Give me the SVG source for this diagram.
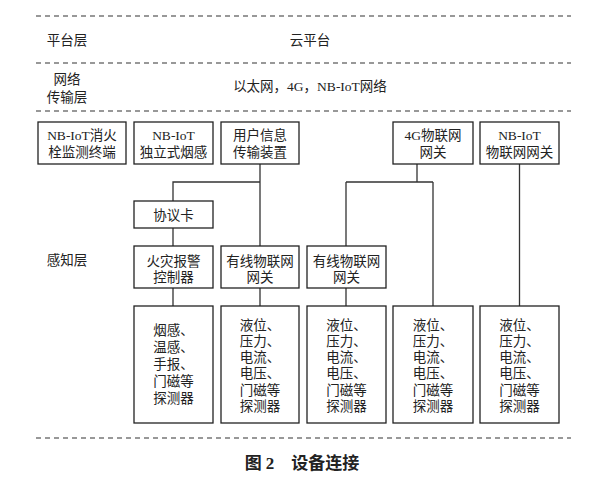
<svg xmlns="http://www.w3.org/2000/svg" width="596" height="480" viewBox="0 0 596 480">
<style>
text{font-family:"Liberation Serif","Noto Sans CJK SC",serif;font-size:13.5px;fill:#222;text-anchor:middle}
.box{fill:#fff;stroke:#222;stroke-width:1.3}
.dash{stroke:#333;stroke-width:1.2;stroke-dasharray:5 4;fill:none}
.con{stroke:#333;stroke-width:1.3;fill:none}
.cap{font-size:17px;font-weight:bold}
</style>
<rect width="596" height="480" fill="#fff"/>
<g id="layers">
<line class="dash" x1="36" y1="16" x2="571" y2="16"/>
<line class="dash" x1="36" y1="63" x2="571" y2="63"/>
<line class="dash" x1="36" y1="111" x2="571" y2="111"/>
<line class="dash" x1="36" y1="438" x2="571" y2="438"/>
<text x="67" y="45">平台层</text>
<text x="310" y="45">云平台</text>
<text x="67" y="84">网络</text>
<text x="67" y="102">传输层</text>
<text x="310" y="91">以太网，4G，NB-IoT网络</text>
<text x="67" y="265">感知层</text>
</g>
<g id="connectors">
<path class="con" d="M260 164V246M260 182H173V201M173 228V246M173 288V306M260 288V306"/>
<path class="con" d="M417 164V182M346 182H433M346 182V246M346 288V306M433 182V306"/>
<path class="con" d="M519.5 164V306"/>
</g>
<g id="n1"><rect class="box" x="38" y="122" width="88" height="42"/><text x="82" y="140">NB-IoT消火</text><text x="82" y="157">栓监测终端</text></g>
<g id="n2"><rect class="box" x="134" y="122" width="79" height="42"/><text x="173.5" y="140">NB-IoT</text><text x="173.5" y="157">独立式烟感</text></g>
<g id="n3"><rect class="box" x="221" y="122" width="78" height="42"/><text x="260" y="140">用户信息</text><text x="260" y="157">传输装置</text></g>
<g id="n4"><rect class="box" x="393" y="122" width="80" height="42"/><text x="433" y="140">4G物联网</text><text x="433" y="157">网关</text></g>
<g id="n5"><rect class="box" x="480" y="122" width="79" height="42"/><text x="519.5" y="140">NB-IoT</text><text x="519.5" y="157">物联网网关</text></g>
<g id="n6"><rect class="box" x="134" y="201" width="79" height="27"/><text x="173.5" y="219.5">协议卡</text></g>
<g id="n7"><rect class="box" x="134" y="246" width="79" height="42"/><text x="173.5" y="266">火灾报警</text><text x="173.5" y="282">控制器</text></g>
<g id="n8"><rect class="box" x="221" y="246" width="78" height="42"/><text x="260" y="266">有线物联网</text><text x="260" y="282">网关</text></g>
<g id="n9"><rect class="box" x="307" y="246" width="79" height="42"/><text x="346.5" y="266">有线物联网</text><text x="346.5" y="282">网关</text></g>
<g id="d1"><rect class="box" x="134" y="306" width="79" height="117"/>
<text x="173.5" y="335">烟感、</text><text x="173.5" y="352">温感、</text><text x="173.5" y="369">手报、</text><text x="173.5" y="386">门磁等</text><text x="173.5" y="403">探测器</text></g>
<g id="d2"><rect class="box" x="221" y="306" width="78" height="117"/>
<text x="260" y="330">液位、</text><text x="260" y="346">压力、</text><text x="260" y="362">电流、</text><text x="260" y="378">电压、</text><text x="260" y="395">门磁等</text><text x="260" y="411">探测器</text></g>
<g id="d3"><rect class="box" x="307" y="306" width="79" height="117"/>
<text x="346.5" y="330">液位、</text><text x="346.5" y="346">压力、</text><text x="346.5" y="362">电流、</text><text x="346.5" y="378">电压、</text><text x="346.5" y="395">门磁等</text><text x="346.5" y="411">探测器</text></g>
<g id="d4"><rect class="box" x="393" y="306" width="80" height="117"/>
<text x="433" y="330">液位、</text><text x="433" y="346">压力、</text><text x="433" y="362">电流、</text><text x="433" y="378">电压、</text><text x="433" y="395">门磁等</text><text x="433" y="411">探测器</text></g>
<g id="d5"><rect class="box" x="480" y="306" width="79" height="117"/>
<text x="519.5" y="330">液位、</text><text x="519.5" y="346">压力、</text><text x="519.5" y="362">电流、</text><text x="519.5" y="378">电压、</text><text x="519.5" y="395">门磁等</text><text x="519.5" y="411">探测器</text></g>
<g id="caption"><text class="cap" x="302" y="469" xml:space="preserve">图 2    设备连接</text></g>
</svg>
